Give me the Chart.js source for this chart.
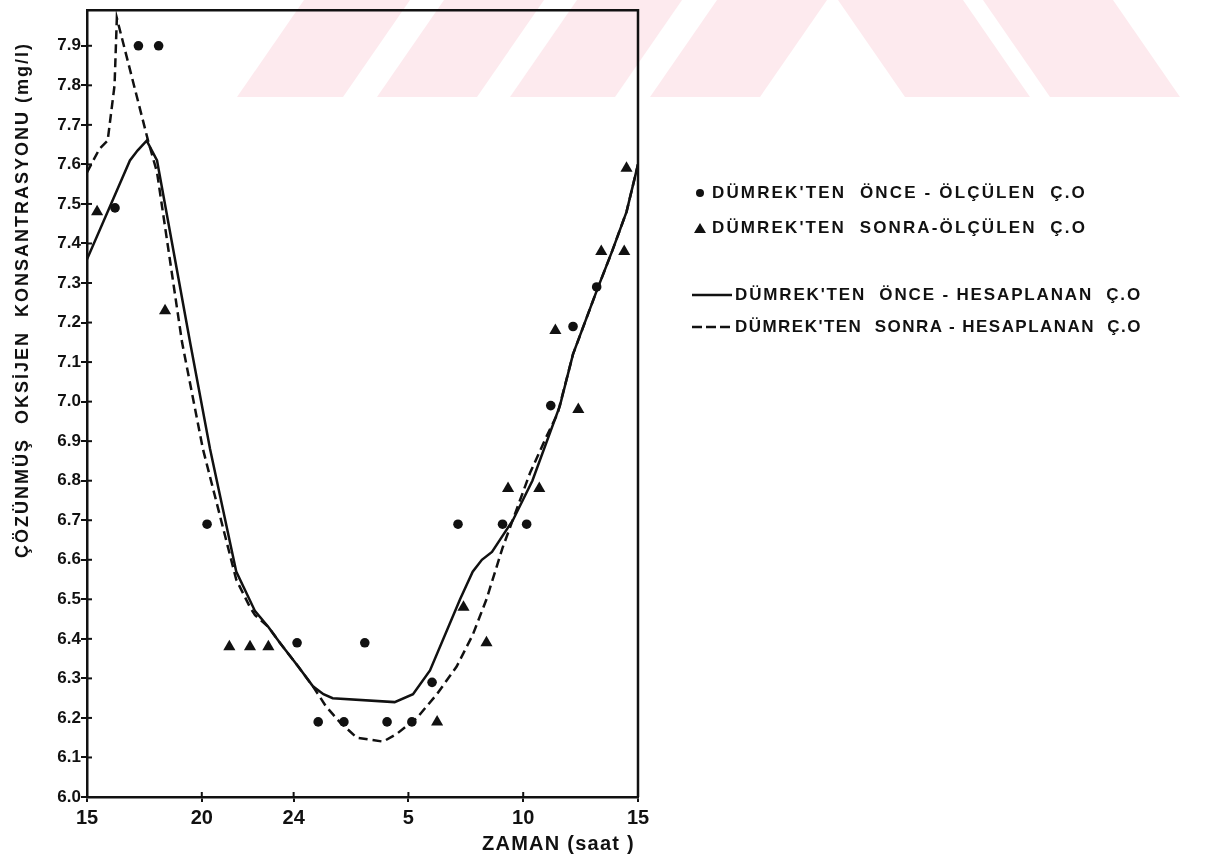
<!DOCTYPE html>
<html>
<head>
<meta charset="utf-8">
<script src="https://cdn.jsdelivr.net/npm/chart.js@4.4.0/dist/chart.umd.min.js"></script>
<style>
  html, body { margin: 0; padding: 0; background: #fff; }
  body { width: 1214px; height: 863px; position: relative; overflow: hidden; font-family: 'Liberation Sans', Arial, sans-serif; }
  #wm { position: absolute; left: 0; top: 0; }
  #wrap { position: absolute; left: 0; top: 0; width: 660px; height: 863px; }
  .txt { position: absolute; white-space: pre; font-weight: bold; color: #111; line-height: 20px; }
  #legsym { position: absolute; left: 0; top: 0; }
</style>
</head>
<body>
<svg id="wm" width="1214" height="100">
  <g fill="#fdeaee">
    <polygon points="237,97 343,97 410,0 304,0"/>
    <polygon points="377,97 477,97 544,0 444,0"/>
    <polygon points="510,97 615,97 682,0 577,0"/>
    <polygon points="650,97 760,97 827,0 717,0"/>
    <polygon points="905,97 1030,97 963,0 838,0"/>
    <polygon points="1050,97 1180,97 1113,0 983,0"/>
  </g>
</svg>
<div id="wrap"><canvas id="chart" width="660" height="863"></canvas></div>

<svg id="legsym" width="1214" height="863">
  <circle cx="700" cy="193" r="4" fill="#111"/>
  <polygon points="694,233 706,233 700,223" fill="#111"/>
  <line x1="692" y1="295" x2="732" y2="295" stroke="#111" stroke-width="2.5"/>
  <line x1="692" y1="327" x2="731" y2="327" stroke="#111" stroke-width="2.5" stroke-dasharray="10,4"/>
</svg>

<div class="txt" id="leg1" style="left:712px; top:183px; font-size:17px;">DÜMREK'TEN  ÖNCE - ÖLÇÜLEN  Ç.O</div>
<div class="txt" id="leg2" style="left:712px; top:218px; font-size:17px;">DÜMREK'TEN  SONRA-ÖLÇÜLEN  Ç.O</div>
<div class="txt" id="leg3" style="left:735px; top:285px; font-size:17px;">DÜMREK'TEN  ÖNCE - HESAPLANAN  Ç.O</div>
<div class="txt" id="leg4" style="left:735px; top:317px; font-size:17px;">DÜMREK'TEN  SONRA - HESAPLANAN  Ç.O</div>
<div class="txt" id="xtitle" style="left:482px; top:833px; font-size:20px;">ZAMAN (saat )</div>
<div class="txt" id="ytitle" style="font-size:18px;">ÇÖZÜNMÜŞ  OKSİJEN  KONSANTRASYONU (mg/l)</div>

<script>
// time axis: hours elapsed since 15:00
const xTickValues = [0, 5, 9, 14, 19, 24];
const xTickLabels = ['15', '20', '24', '5', '10', '15'];

// measured D.O. before Dümrek (circles)
const onceOlcHour  = [1.22, 2.24, 3.12, 5.23, 9.15, 10.07, 11.19, 12.1, 13.07, 14.15, 15.03, 16.16, 18.1, 19.15, 20.2, 21.17, 22.2];
const onceOlcValue = [7.49, 7.90, 7.90, 6.69, 6.39, 6.19, 6.19, 6.39, 6.19, 6.19, 6.29, 6.69, 6.69, 6.69, 6.99, 7.19, 7.29];

// measured D.O. after Dümrek (triangles)
const sonraOlcHour  = [0.44, 3.4, 6.2, 7.1, 7.9, 15.25, 16.4, 17.4, 18.34, 19.7, 20.4, 21.4, 22.4, 23.4, 23.5];
const sonraOlcValue = [7.48, 7.23, 6.38, 6.38, 6.38, 6.19, 6.48, 6.39, 6.78, 6.78, 7.18, 6.98, 7.38, 7.38, 7.59];

// computed D.O. before Dümrek (solid line)
const onceHesHour  = [0, 1.87, 2.2, 2.6, 3.05, 4.49, 5.36, 6.5, 7.32, 7.9, 8.4, 9.2, 9.84, 10.3, 10.7, 13.4, 14.2, 14.94, 16.25, 16.8, 17.2, 17.64, 18.55, 19.4, 20.6, 21.17, 22.2, 22.87, 23.5, 24];
const onceHesValue = [7.36, 7.61, 7.635, 7.66, 7.61, 7.15, 6.88, 6.57, 6.47, 6.43, 6.39, 6.33, 6.28, 6.26, 6.25, 6.24, 6.26, 6.32, 6.50, 6.57, 6.60, 6.62, 6.70, 6.80, 6.99, 7.12, 7.28, 7.38, 7.48, 7.60];

// computed D.O. after Dümrek (dashed line)
const sonraHesHour  = [0, 0.55, 0.9, 1.2, 1.3, 2.66, 3.05, 4.14, 5.05, 6.5, 7.1, 7.32, 7.9, 8.4, 9.2, 9.84, 10.4, 11.0, 11.75, 12.9, 13.5, 14.37, 15.24, 16.1, 16.8, 17.4, 18.1, 18.73, 19.3, 20.0, 20.5, 21.17, 22.2, 22.87, 23.5, 24];
const sonraHesValue = [7.58, 7.64, 7.66, 7.80, 7.97, 7.66, 7.58, 7.15, 6.88, 6.55, 6.48, 6.46, 6.43, 6.39, 6.33, 6.28, 6.23, 6.19, 6.15, 6.14, 6.16, 6.20, 6.26, 6.33, 6.41, 6.50, 6.63, 6.73, 6.82, 6.91, 6.97, 7.12, 7.28, 7.38, 7.48, 7.60];

const FONT = "'Liberation Sans', Arial, sans-serif";
const INK = '#111';

function pts(xs, ys) {
  return xs.map((x, i) => ({ x: x, y: ys[i] }));
}

// closes the box and draws the inner half of the tick marks
const framePlugin = {
  id: 'frame',
  afterDraw(chart) {
    const { ctx, chartArea: a, scales } = chart;
    ctx.save();
    ctx.strokeStyle = INK;
    ctx.lineWidth = 2.5;
    ctx.beginPath();
    ctx.moveTo(a.left, a.top);
    ctx.lineTo(a.right, a.top);
    ctx.lineTo(a.right, a.bottom);
    ctx.stroke();
    ctx.lineWidth = 2;
    scales.y.ticks.forEach(t => {
      const y = scales.y.getPixelForValue(t.value);
      ctx.beginPath();
      ctx.moveTo(a.left, y);
      ctx.lineTo(a.left + 5, y);
      ctx.stroke();
    });
    xTickValues.slice(1, -1).forEach(v => {
      const x = scales.x.getPixelForValue(v);
      ctx.beginPath();
      ctx.moveTo(x, a.bottom);
      ctx.lineTo(x, a.bottom - 5);
      ctx.stroke();
    });
    ctx.restore();
  }
};

new Chart(document.getElementById('chart'), {
  type: 'scatter',
  data: {
    datasets: [
      {
        label: 'ÖNCE - ÖLÇÜLEN',
        data: pts(onceOlcHour, onceOlcValue),
        pointStyle: 'circle',
        pointRadius: 4.8,
        backgroundColor: INK,
        borderColor: INK,
        borderWidth: 0,
        order: 1
      },
      {
        label: 'SONRA - ÖLÇÜLEN',
        data: pts(sonraOlcHour, sonraOlcValue),
        pointStyle: 'triangle',
        pointRadius: 7,
        backgroundColor: INK,
        borderColor: INK,
        borderWidth: 0,
        order: 2
      },
      {
        label: 'ÖNCE - HESAPLANAN',
        data: pts(onceHesHour, onceHesValue),
        showLine: true,
        borderColor: INK,
        borderWidth: 2.5,
        pointRadius: 0,
        tension: 0,
        order: 3
      },
      {
        label: 'SONRA - HESAPLANAN',
        data: pts(sonraHesHour, sonraHesValue),
        showLine: true,
        borderColor: INK,
        borderWidth: 2.5,
        borderDash: [9, 5],
        pointRadius: 0,
        tension: 0,
        order: 4
      }
    ]
  },
  options: {
    responsive: false,
    animation: false,
    devicePixelRatio: 1,
    layout: { padding: { top: 7, right: 22, left: 0, bottom: 0 } },
    plugins: { legend: { display: false }, tooltip: { enabled: false } },
    scales: {
      x: {
        type: 'linear',
        min: 0,
        max: 24,
        afterBuildTicks: s => { s.ticks = xTickValues.map(v => ({ value: v })); },
        afterFit: s => { s.height = 66; },
        ticks: {
          autoSkip: false,
          maxRotation: 0,
          padding: 4,
          color: INK,
          font: { family: FONT, size: 20, weight: 'bold' },
          callback: (v, i) => xTickLabels[i]
        },
        grid: { drawOnChartArea: false, drawTicks: true, tickLength: 5, color: INK, lineWidth: 2 },
        border: { display: true, color: INK, width: 2.5 }
      },
      y: {
        min: 6.0,
        max: 7.99,
        afterFit: s => { s.width = 87; },
        ticks: {
          stepSize: 0.1,
          includeBounds: false,
          padding: 0,
          color: INK,
          font: { family: FONT, size: 17, weight: 'bold' },
          callback: v => v.toFixed(1)
        },
        grid: { drawOnChartArea: false, drawTicks: true, tickLength: 6, color: INK, lineWidth: 2 },
        border: { display: true, color: INK, width: 2.5 }
      }
    }
  },
  plugins: [framePlugin]
});

// spread each label's letters so it spans the same length as in the figure
function fitWidth(id, target) {
  const el = document.getElementById(id);
  const n = el.textContent.length;
  const w = el.getBoundingClientRect().width;
  el.style.letterSpacing = ((target - w) / n) + 'px';
  return el;
}
fitWidth('leg1', 375);
fitWidth('leg2', 375);
fitWidth('leg3', 407);
fitWidth('leg4', 407);
fitWidth('xtitle', 153);

const yt = fitWidth('ytitle', 516);
const yw = yt.getBoundingClientRect().width;
yt.style.left = (22 - yw / 2) + 'px';
yt.style.top = (300 - 10) + 'px';
yt.style.transform = 'rotate(-90deg)';
</script>
</body>
</html>
